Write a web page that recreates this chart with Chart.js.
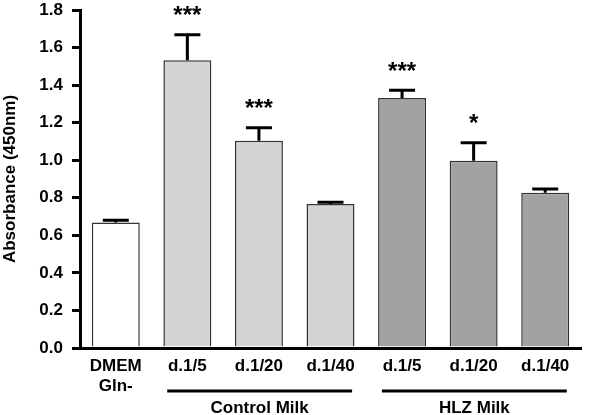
<!DOCTYPE html>
<html>
<head>
<meta charset="utf-8">
<script src="https://cdn.jsdelivr.net/npm/chart.js@4.4.1/dist/chart.umd.min.js"></script>
<style>
html, body { margin: 0; padding: 0; background: #fff; }
</style>
</head>
<body>
<canvas id="barChart" width="600" height="415"></canvas>
<script>
// data
var categories = [['DMEM', 'Gln-'], 'd.1/5', 'd.1/20', 'd.1/40', 'd.1/5', 'd.1/20', 'd.1/40'];
var absorbance = [0.669, 1.533, 1.104, 0.767, 1.331, 0.997, 0.827];
var sem = [0.011, 0.135, 0.069, 0.009, 0.041, 0.096, 0.020];
var stars = ['', '***', '***', '', '***', '*', ''];
var barColors = ['#ffffff', '#d4d4d4', '#d4d4d4', '#d4d4d4', '#a2a2a2', '#a2a2a2', '#a2a2a2'];
var groupNames = ['Control Milk', 'HLZ Milk'];
var groupFirst = [1, 4];
var groupLast = [3, 6];

var FONT = '"Liberation Sans", Arial, sans-serif';

// error bars (upper only) and significance stars
var errorBars = {
  id: 'errorBars',
  afterDatasetsDraw: function(chart) {
    var ctx = chart.ctx;
    var y = chart.scales.y;
    var meta = chart.getDatasetMeta(0);
    ctx.save();
    ctx.strokeStyle = '#000';
    ctx.lineWidth = 3;
    meta.data.forEach(function(bar, i) {
      var top = y.getPixelForValue(absorbance[i]);
      var cap = y.getPixelForValue(absorbance[i] + sem[i]);
      ctx.beginPath();
      ctx.moveTo(bar.x, top);
      ctx.lineTo(bar.x, cap);
      ctx.moveTo(bar.x - 13, cap);
      ctx.lineTo(bar.x + 13, cap);
      ctx.stroke();
      if (stars[i]) {
        ctx.fillStyle = '#000';
        ctx.font = 'bold 24px ' + FONT;
        ctx.textAlign = 'center';
        ctx.textBaseline = 'middle';
        ctx.fillText(stars[i], bar.x, cap - 18);
      }
    });
    ctx.restore();
  }
};

// underlines and group names below the x labels
var groupLabels = {
  id: 'groupLabels',
  afterDraw: function(chart) {
    var ctx = chart.ctx;
    var meta = chart.getDatasetMeta(0);
    var bottom = chart.chartArea.bottom;
    ctx.save();
    ctx.strokeStyle = '#000';
    ctx.lineWidth = 3;
    ctx.fillStyle = '#000';
    ctx.font = 'bold 17px ' + FONT;
    ctx.textAlign = 'center';
    ctx.textBaseline = 'middle';
    groupNames.forEach(function(name, g) {
      var a = meta.data[groupFirst[g]];
      var b = meta.data[groupLast[g]];
      var x0 = a.x - a.width * 0.42;
      var x1 = b.x + b.width * 0.45;
      ctx.beginPath();
      ctx.moveTo(x0, bottom + 43);
      ctx.lineTo(x1, bottom + 43);
      ctx.stroke();
      ctx.fillText(name, (x0 + x1) / 2, bottom + 60);
    });
    ctx.restore();
  }
};

var ctxB = document.getElementById('barChart').getContext('2d');
var myBarChart = new Chart(ctxB, {
  type: 'bar',
  data: {
    labels: categories,
    datasets: [{
      label: 'Absorbance',
      data: absorbance,
      backgroundColor: barColors,
      borderColor: '#333',
      borderWidth: 1.5,
      categoryPercentage: 1,
      barPercentage: 0.67
    }]
  },
  options: {
    responsive: false,
    animation: false,
    devicePixelRatio: 1,
    layout: { padding: { top: 0, right: 19, left: 0, bottom: 0 } },
    plugins: {
      legend: { display: false },
      tooltip: { enabled: false }
    },
    scales: {
      x: {
        grid: { display: false, drawTicks: false },
        border: { display: true, color: '#000', width: 3 },
        ticks: {
          color: '#000',
          padding: 9,
          maxRotation: 0,
          font: { family: FONT, size: 17, weight: 'bold', lineHeight: 1.15 }
        },
        afterFit: function(scale) { scale.height = 67; }
      },
      y: {
        min: 0,
        max: 1.8,
        grid: { drawOnChartArea: false, drawTicks: true, tickLength: 8, lineWidth: 3, color: '#000' },
        border: { display: true, color: '#000', width: 3 },
        ticks: {
          stepSize: 0.2,
          color: '#000',
          padding: 9,
          font: { family: FONT, size: 17, weight: 'bold' },
          callback: function(v) { return v.toFixed(1); }
        },
        title: {
          display: true,
          text: 'Absorbance (450nm)',
          color: '#000',
          padding: 0,
          font: { family: FONT, size: 17, weight: 'bold' }
        },
        afterFit: function(scale) {
          scale.width = 80;
          scale.paddingTop = 10;
          scale.paddingBottom = 0;
        }
      }
    }
  },
  plugins: [errorBars, groupLabels]
});
</script>
</body>
</html>
